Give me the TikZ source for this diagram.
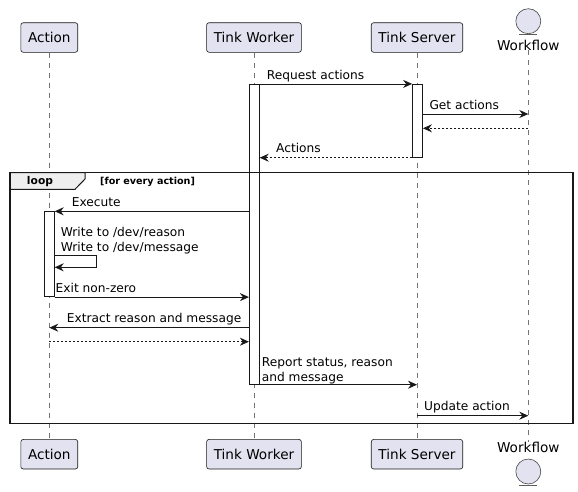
\documentclass[tikz,border=0pt]{standalone}
\usepackage{fontspec}
\setmainfont{DejaVu Sans}
\usetikzlibrary{arrows.meta}
\definecolor{partfill}{HTML}{E2E2F0}
\definecolor{ink}{HTML}{181818}
\definecolor{tabfill}{HTML}{EEEEEE}

\begin{document}
\begin{tikzpicture}[x=1pt,y=-1pt,>={Stealth[length=9pt,width=8pt,inset=3pt]},
  part/.style={draw=ink, fill=partfill, rounded corners=2.5pt, line width=0.6pt,
    minimum height=29.6pt, inner xsep=7.2pt, font=\fontsize{13.6}{16}\selectfont},
  actor name/.style={inner sep=0pt, font=\fontsize{13.6}{16}\selectfont},
  entity/.style={circle, draw=ink!80, fill=partfill, minimum size=25pt, inner sep=0pt, line width=0.6pt},
  bar/.style={draw=ink, fill=white, line width=0.8pt, minimum width=10pt, inner sep=0pt},
  msg/.style={->, draw=ink, line width=0.8pt},
  reply/.style={msg, dash pattern=on 2pt off 2pt},
  lbl/.style={inner sep=0pt, anchor=base west, align=left, font=\fontsize{12.2}{15}\selectfont},
  life/.style={draw=ink!60, line width=0.5pt, dash pattern=on 5pt off 5pt}]

  \useasboundingbox (0,0) rectangle (578,491);

  % participants
  \node[part] (action) at (49.3,37.5) {Action};
  \node[part] (worker) at (254,37.5) {Tink Worker};
  \node[part] (server) at (417,37.5) {Tink Server};
  \node[entity] (wf circle) at (528.3,21.2) {};
  \node[actor name] (wf name) at (528.3,45) {Workflow};

  \node[part] (action b) at (49.3,454.2) {Action};
  \node[part] (worker b) at (254,454.2) {Tink Worker};
  \node[part] (server b) at (417,454.2) {Tink Server};
  \node[actor name] (wf name b) at (528.3,447.5) {Workflow};
  \node[entity] (wf circle b) at (528.3,471.5) {};
  \draw[ink!70, line width=0.8pt] (wf circle.south west |- 0,34.7) -- (wf circle.south east |- 0,34.7);
  \draw[ink!70, line width=0.8pt] (wf circle b.south west |- 0,485) -- (wf circle b.south east |- 0,485);

  % lifelines
  \draw[life] (action.south) -- (action b.north);
  \draw[life] (worker.south) -- (worker b.north);
  \draw[life] (server.south) -- (server b.north);
  \draw[life] (wf name.south) -- (wf name b.north);

  % activations
  \node[bar, minimum height=300pt] (worker bar) at (254.3,234.3) {};
  \node[bar, minimum height=73pt] (server bar) at (417.5,120.8) {};
  \node[bar, minimum height=85pt] (action bar) at (49.3,254.2) {};

  \foreach \n/\y in {get/114, got/128.3, selftop/255.7, extract/327.7, back/341.7, update/415.7}
    \coordinate (\n) at (0,\y);
  \coordinate (turn) at (96.7,267.3);

  % messages
  \draw[msg] (worker bar.north east) -- (server bar.north west);
  \node[lbl] (l request) at (266.7,79.3) {Request actions};
  \draw[msg] (server bar.east |- get) -- (wf circle |- get);
  \node[lbl] (l get) at (429.3,109) {Get actions};
  \draw[reply] (wf circle |- got) -- (server bar.east |- got);
  \draw[reply] (server bar.south west) -- (worker bar.east |- server bar.south);
  \node[lbl] (l actions) at (276,152.3) {Actions};

  % loop group
  \draw[ink, line width=1pt, fill=tabfill] (10,172.7) -- (85,172.7) -- (85,179) -- (75,189.3) -- (10,189.3) -- cycle;
  \node[inner sep=0pt, font=\fontsize{10.7}{12}\selectfont\bfseries] (loop) at (40,181.5) {loop};
  \node[inner sep=0pt, anchor=west, font=\fontsize{9.6}{11}\selectfont\bfseries] (guard) at (100,181.5) {[for every action]};
  \draw[ink, line width=1.5pt] (10,172.7) rectangle (573,423.5);

  \draw[msg] (worker bar.west |- action bar.north) -- (action bar.north east);
  \node[lbl] (l exec) at (71.7,206.5) {Execute};
  \node[lbl] (l write) at (60.7,251.2) {Write to /dev/reason\\Write to /dev/message};
  \draw[msg] (action bar.east |- selftop) -| (turn) -- (action bar.east |- turn);
  \draw[msg] (action bar.south east) -- (worker bar.west |- action bar.south);
  \node[lbl] (l exit) at (55.5,292) {Exit non-zero};
  \draw[msg] (worker bar.west |- extract) -- (action |- extract);
  \node[lbl] (l extract) at (66.7,322.8) {Extract reason and message};
  \draw[reply] (action |- back) -- (worker bar.west |- back);
  \draw[msg] (worker bar.south east) -- (server |- worker bar.south);
  \node[lbl] (l report) at (261.7,381.2) {Report status, reason\\and message};
  \draw[msg] (server |- update) -- (wf circle |- update);
  \node[lbl] (l update) at (424,410.5) {Update action};
\end{tikzpicture}
\end{document}
